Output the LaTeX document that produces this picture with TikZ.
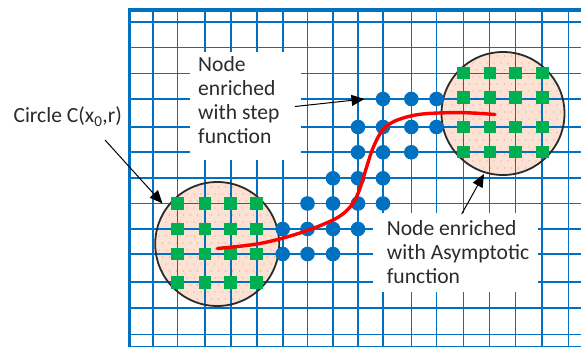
\documentclass[tikz,border=0pt]{standalone}
\usepackage{fontspec}
\setmainfont{Carlito}
\usetikzlibrary{arrows.meta}
\definecolor{gridblue}{HTML}{0070C0}
\definecolor{dotblue}{HTML}{0070C0}
\definecolor{sqgreen}{HTML}{00B050}
\definecolor{peach}{HTML}{FBE2D5}
\definecolor{speck}{HTML}{F29A5C}
\definecolor{txtgray}{HTML}{2B2B2B}
\definecolor{curvered}{HTML}{FF0000}
\tikzset{
  gridline/.style={draw=gridblue, line width=1.6pt},
  frameline/.style={draw=gridblue, line width=3.6pt},
  circfill/.style={circle, fill=peach, minimum size=124pt, inner sep=0pt},
  circline/.style={draw=txtgray, line width=1.8pt},
  wbox/.style={rectangle, fill=white, inner sep=0pt},
  bdot/.style={circle, fill=dotblue, minimum size=14.6pt, inner sep=0pt},
  gsq/.style={rectangle, fill=sqgreen, minimum size=12.8pt, inner sep=0pt},
  redcurve/.style={draw=curvered, line width=3.4pt, line cap=round},
  pointer/.style={draw=black, line width=1pt, -{Triangle[length=13pt,width=11pt]}},
  lbl/.style={font=\fontsize{21.6}{23.8}\selectfont, text=txtgray, align=left, inner sep=0pt}
}
\begin{document}
\begin{tikzpicture}[x=1pt,y=-1pt]
\useasboundingbox (0,0) rectangle (581,347);
\clip (0,0) rectangle (581,347);
\fill[white] (0,0) rectangle (581,347);

% circle fills with speckle pattern
\node[circfill] (lc) at (217.2,244) {};
\node[circfill] (rc) at (503,113.5) {};
\begin{scope}
  \clip (217.2,244) circle[radius=61];
  \foreach \j in {0,...,19}{
    \pgfmathsetmacro\off{mod(\j,2)*3.5}
    \foreach \i in {0,...,19}{
      \fill[speck] ({152+\i*7+\off},{180+\j*7}) circle[radius=0.65];
    }
  }
\end{scope}
\begin{scope}
  \clip (503,113.5) circle[radius=60];
  \foreach \j in {0,...,19}{
    \pgfmathsetmacro\off{mod(\j,2)*3.5}
    \foreach \i in {0,...,19}{
      \fill[speck] ({438+\i*7+\off},{49+\j*7}) circle[radius=0.65];
    }
  }
\end{scope}

% grid
\foreach \x in {152.7,177.5,205,230.7,256.7,282.7,307.5,333,358,383,411.3,436.5,463.3,489.5,515.5,542,568.3}
  \draw[gridline] (\x,10) -- (\x,347);
\foreach \y in {22.3,47.5,73.5,99,127,152.3,178.3,203.5,229,254,282,308,334.5}
  \draw[gridline] (129.5,\y) -- (581,\y);
\draw[frameline] (600,10.3) -- (129.5,10.3) -- (129.5,347.8) -- (600,347.8);

% circle outlines
\draw[circline] (lc.center) circle[radius=62];
\draw[circline] (rc.center) circle[radius=61.5];

% white label boxes
\node[wbox, minimum width=111pt, minimum height=108pt] (stepbox) at (245.5,106) {};
\node[wbox, minimum width=165pt, minimum height=79pt] (asybox) at (455.5,252.5) {};

% enriched (step) nodes
\foreach \x/\y [count=\k] in {383/99, 411.3/99, 436.5/99,
  358/127, 383/127, 411.3/127, 436.5/127,
  358/152.3, 383/152.3, 411.3/152.3,
  333/178.3, 358/178.3, 383/178.3,
  307.5/203.5, 333/203.5, 358/203.5, 383/203.5,
  282.7/229, 307.5/229, 333/229, 358/229,
  282.7/254, 307.5/254, 333/254}
  \node[bdot] (bd\k) at (\x,\y) {};

% asymptotic nodes
\foreach \x [count=\i] in {177.5,205,230.7,256.7}
  \foreach \y [count=\j] in {203.5,229,254,282.5}
    \node[gsq] (lsq\i\j) at (\x,\y) {};
\foreach \x [count=\i] in {463.3,490,515.7,542.6}
  \foreach \y [count=\j] in {73,97.5,127,152}
    \node[gsq] (rsq\i\j) at (\x,\y) {};

% crack
\draw[redcurve] plot[smooth, tension=0.55] coordinates {(217.3,248.5) (260,243.5) (300,233) (335,219) (351,206) (359,191) (366,169) (373,148) (382,131) (395,121) (420,114.3) (460,112.6) (495,114.5)};

% texts (base anchor = baseline of last line)
\node[lbl, anchor=base west] (steptext) at (198,143.1) {Node\\enriched\\with step\\function};
\node[lbl, anchor=base west] (asytext) at (386.7,283.6) {Node enriched\\with Asymptotic\\function};
\node[lbl, anchor=base west] (circtext) at (13.3,123) {Circle C(x\textsubscript{0},r)};

% pointers
\coordinate (a1s) at (295,106.5);
\coordinate (a2s) at (105,140);
\coordinate (a2e) at (162.5,203.5);
\coordinate (a3s) at (461.7,214);
\coordinate (a3e) at (484,174);
\draw[pointer] (a1s) -- ([xshift=-11pt]bd1.west);
\draw[pointer] (a2s) -- (a2e);
\draw[pointer] (a3s) -- (a3e);
\end{tikzpicture}
\end{document}
